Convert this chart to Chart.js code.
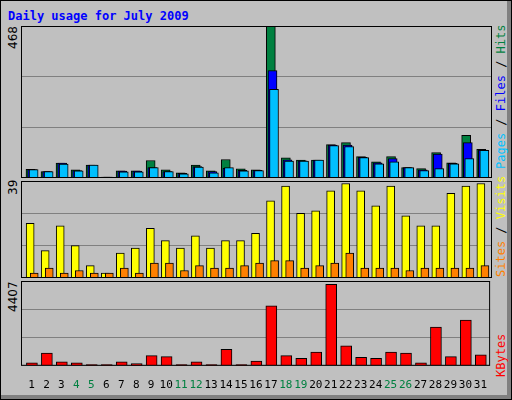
<!DOCTYPE html>
<html>
<head>
<meta charset="utf-8">
<script src="https://cdn.jsdelivr.net/npm/chart.js@4"></script>
<style>
  body { margin: 0; }
  #frame { position: relative; width: 510px; height: 398px; background: #c0c0c0; border: 1px solid #000; overflow: hidden; }
  #shadowR { position: absolute; right: 0; top: 0; width: 4px; height: 398px; background: #808080; }
  #shadowB { position: absolute; left: 0; bottom: 0; width: 510px; height: 4px; background: #808080; }
  canvas { position: absolute; }
  .t { position: absolute; font-family: "DejaVu Sans Mono", monospace; white-space: nowrap; }
  .rot { transform-origin: left top; transform: rotate(-90deg); }
</style>
</head>
<body>
<div id="frame">
  <div id="shadowR"></div><div id="shadowB"></div>
  <div class="t" style="left:7px;top:8px;font-size:12px;font-weight:bold;color:#0000ff">Daily usage for July 2009</div>
  <div class="t rot" style="left:5px;top:48px;font-size:12px;font-family:'DejaVu Sans'">468</div>
  <div class="t rot" style="left:5px;top:194px;font-size:12px;font-family:'DejaVu Sans'">39</div>
  <div class="t rot" style="left:5px;top:311px;font-size:12px;font-family:'DejaVu Sans'">4407</div>
  <div class="t rot" style="left:493px;top:168px;font-size:12px"><span style="color:#00c0ff">Pages</span> / <span style="color:#0000ff">Files</span> / <span style="color:#008040">Hits</span></div>
  <div class="t rot" style="left:493px;top:276px;font-size:12px"><span style="color:#ff8000">Sites</span> / <span style="color:#ffff00">Visits</span></div>
  <div class="t rot" style="left:493px;top:376px;font-size:12px;color:#ff0000">KBytes</div>
  <canvas id="c1" style="left:20px;top:25px"></canvas>
  <canvas id="c2" style="left:20px;top:180px"></canvas>
  <canvas id="c3" style="left:20px;top:280px"></canvas>
</div>
<script>
const days = Array.from({length: 31}, (_, i) => i + 1);
const weekendDays = [4, 5, 11, 12, 18, 19, 25, 26];
const hits   = [27,20,46,25,40,3,22,22,54,25,16,40,22,57,28,25,468,62,55,55,103,109,66,50,66,32,29,78,47,131,88];
const files  = [26,20,46,23,40,3,21,21,32,20,14,35,20,30,24,24,331,56,53,55,101,101,64,47,60,32,25,74,45,109,86];
const pages  = [26,20,43,22,40,3,19,19,32,20,13,34,16,32,22,23,273,52,52,55,100,97,63,44,50,32,23,29,44,60,85];
const visits = [22,11,21,13,5,2,10,12,20,15,12,17,12,15,15,18,31,37,26,27,35,38,35,29,37,25,21,21,34,37,38];
const sites  = [2,4,2,3,2,2,4,2,6,6,3,5,4,4,5,6,7,7,4,5,6,10,4,4,4,3,4,4,4,4,5];
const kbytes = [155,665,200,155,60,60,200,110,525,480,60,200,60,850,60,250,3120,525,390,710,4237,1035,435,390,710,665,155,2010,480,2380,570];
const maxTop = 468, maxMid = 39, maxBot = 4407;

const frame = {
  id: 'frame',
  afterDraw(chart) {
    const a = chart.chartArea, c = chart.ctx;
    c.save();
    c.strokeStyle = '#000';
    c.lineWidth = 1;
    c.strokeRect(a.left + 0.5, a.top + 0.5, a.right - a.left - 1, a.bottom - a.top - 1);
    c.restore();
  }
};

function series(vals, off) {
  return vals.map((v, i) => ({x: days[i] + off, y: v}));
}

function bar(label, vals, off, color, w) {
  return { label, data: series(vals, off), backgroundColor: color, borderColor: '#000',
           borderWidth: 1, barThickness: w, grouped: false };
}

function makeChart(id, w, h, datasets, max, showX) {
  const el = document.getElementById(id);
  el.width = w; el.height = h;
  el.style.width = w + 'px'; el.style.height = h + 'px';
  return new Chart(el, {
    type: 'bar',
    data: { datasets },
    options: {
      responsive: false, animation: false, events: [],
      layout: { padding: 0 },
      plugins: { legend: { display: false }, tooltip: { enabled: false } },
      scales: {
        x: {
          type: 'linear', min: 0.3, max: 31.65, display: showX, offset: false,
          grid: { display: false }, border: { display: false },
          afterBuildTicks: s => { s.ticks = days.map(v => ({value: v})); },
          ticks: {
            autoSkip: false, maxRotation: 0, padding: 5,
            font: { family: 'DejaVu Sans Mono', size: 11 },
            color: c => weekendDays.includes(c.tick && c.tick.value) ? '#008040' : '#000'
          }
        },
        y: {
          min: 0, max: max,
          afterBuildTicks: s => { s.ticks = [0, 1, 2, 3].map(k => ({value: max * k / 3})); },
          afterFit: s => { s.width = 0; },
          ticks: { display: false },
          grid: { color: '#808080', drawTicks: false },
          border: { display: false }
        }
      }
    },
    plugins: [frame]
  });
}

makeChart('c1', 471, 152, [
  bar('Pages', pages, 0.14, '#00c0ff', 9),
  bar('Files', files, 0.04, '#0000ff', 9),
  bar('Hits', hits, -0.07, '#008040', 9)
], maxTop, false);

makeChart('c2', 471, 97, [
  bar('Sites', sites, 0.18, '#ff8000', 8),
  bar('Visits', visits, -0.09, '#ffff00', 8)
], maxMid, false);

makeChart('c3', 471, 116, [
  bar('KBytes', kbytes, 0.03, '#ff0000', 11)
], maxBot, true);
</script>
</body>
</html>
